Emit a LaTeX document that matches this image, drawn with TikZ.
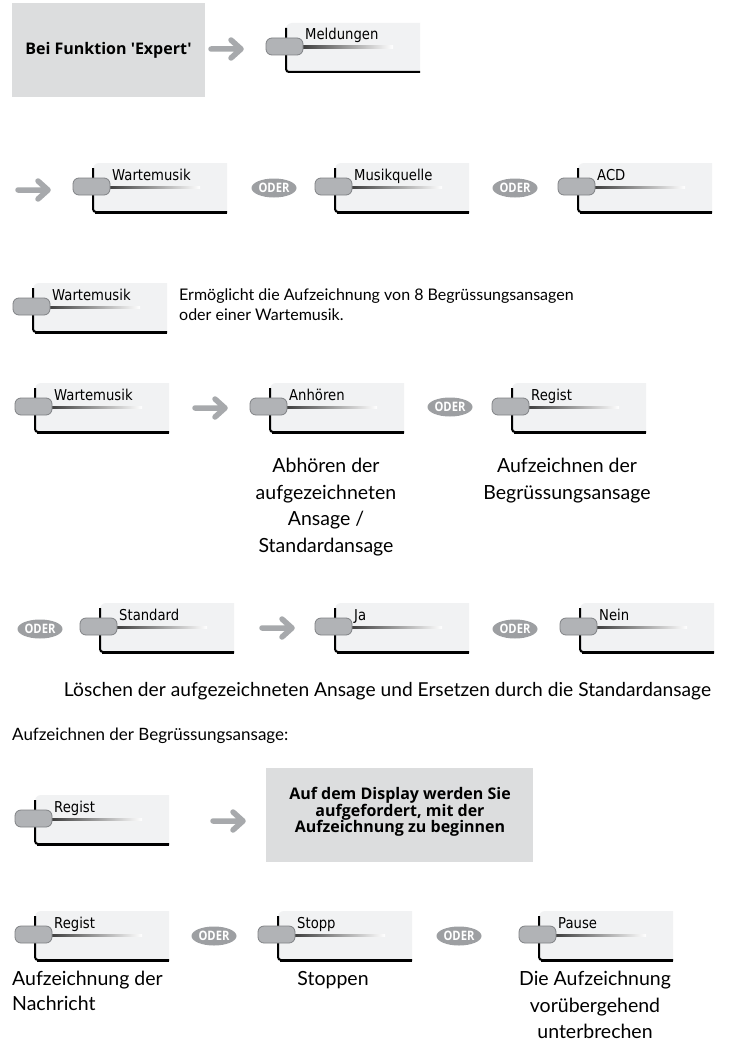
\documentclass[tikz,border=0pt]{standalone}
\usepackage{fontspec}
\setmainfont{Lato}
\newfontfamily\lcdfont[FakeStretch=0.88]{DejaVu Sans}
\newfontfamily\boxfont{Open Sans}
\newfontfamily\oderfont[FakeStretch=0.86]{Open Sans}
\usetikzlibrary{shapes.geometric}
\definecolor{boxgray}{HTML}{DCDDDE}
\definecolor{arrowgray}{HTML}{A7A9AC}
\definecolor{odergray}{HTML}{9D9FA2}
\definecolor{panelbg}{HTML}{F1F2F3}
\definecolor{pillfill}{HTML}{B1B3B6}
\definecolor{pillline}{HTML}{808285}
\tikzset{
  lcd/.style={font=\lcdfont\fontsize{15}{15}\selectfont, inner sep=0pt, anchor=base west},
  lbl/.style={font=\fontsize{19.5}{26.5}\selectfont, align=center, inner sep=0pt, anchor=north},
  lbll/.style={font=\fontsize{19.5}{25}\selectfont, align=left, inner sep=0pt, anchor=north west},
  desc/.style={font=\fontsize{16}{20}\selectfont, align=left, inner sep=0pt, anchor=north west},
  graybox/.style={fill=boxgray, draw=none, inner sep=0pt},
  boxtext/.style={font=\boxfont\bfseries\fontsize{16}{16.5}\selectfont, align=center, inner sep=0pt},
  oder/.style={ellipse, fill=odergray, text=white, font=\oderfont\bfseries\fontsize{13}{13}\selectfont,
    minimum width=45pt, minimum height=19pt, inner sep=0pt},
  pics/softkey/.style={code={
    \fill[panelbg] (0,50) [rounded corners=6pt] -- (0,0) [sharp corners] -- (134,0) -- (134,50) -- cycle;
    \draw[black, line width=2pt, rounded corners=3pt] (0,5) -- (0,49) -- (134,49);
    \draw[black, line width=1pt] (2,50) -- (134,50);
    \shade[left color=black!75, right color=white] (17,23) rectangle (107,25.6);
    \draw[pillline, line width=0.8pt, fill=pillfill, rounded corners=6pt] (-20,15) rectangle (17,32);
    \node[lcd] (-txt) at (19,17) {#1};
  }},
  pics/grayarrow/.style={code={
    \draw[arrowgray, line width=5.5pt, line cap=round, line join=round]
      (0,0) -- (30,0) (20,-9) -- (30,0) -- (20,9);
  }}
}
\newcommand{\oderword}{\makebox[0pt][c]{ODER}}
\begin{document}
\begin{tikzpicture}[x=1pt,y=-1pt]
\useasboundingbox (0,0) rectangle (730,1054);
\fill[white] (0,0) rectangle (730,1054);

% Row 1
\fill[graybox] (12,3) rectangle (205,97);
\node[boxtext] (expert) at (108.5,50) {Bei Funktion 'Expert'};
\pic (a1) at (211,49) {grayarrow};
\pic (k1) at (286,23) {softkey=Meldungen};

% Row 2
\pic (a2) at (18,190) {grayarrow};
\pic (k2) at (93,163) {softkey=Wartemusik};
\node[oder] (o1) at (274,188) {\oderword};
\pic (k3) at (335,163) {softkey=Musikquelle};
\node[oder] (o2) at (515,188) {\oderword};
\pic (k4) at (578,163) {softkey=ACD};

% Row 3
\pic (k5) at (33,283) {softkey=Wartemusik};
\node[desc] (d1) at (179,289) {Ermöglicht die Aufzeichnung von 8 Begrüssungsansagen\\oder einer Wartemusik.};

% Row 4
\pic (k6) at (35,383) {softkey=Wartemusik};
\pic (a3) at (195,408) {grayarrow};
\pic (k7) at (270,383) {softkey=Anhören};
\node[oder] (o3) at (450,407) {\oderword};
\pic (k8) at (512,383) {softkey=Regist};
\node[lbl] (l1) at (326,458) {Abhören der\\aufgezeichneten\\Ansage /\\Standardansage};
\node[lbl] (l2) at (567,458) {Aufzeichnen der\\Begrüssungsansage};

% Row 5
\node[oder] (o4) at (40,629) {\oderword};
\pic (k9) at (100,603) {softkey=Standard};
\pic (a4) at (262,628) {grayarrow};
\pic (k10) at (335,603) {softkey=Ja};
\node[oder] (o5) at (515,629) {\oderword};
\pic (k11) at (580,603) {softkey=Nein};
\node[font=\fontsize{19.2}{22}\selectfont, inner sep=0pt, anchor=base] (cap) at (387.5,696)
  {Löschen der aufgezeichneten Ansage und Ersetzen durch die Standardansage};

% Heading
\node[font=\fontsize{17}{20}\selectfont, inner sep=0pt, anchor=base west] (head) at (12,740)
  {Aufzeichnen der Begrüssungsansage:};

% Row 6
\pic (k12) at (35,795) {softkey=Regist};
\pic (a5) at (213,821) {grayarrow};
\fill[graybox] (266,768) rectangle (533,862);
\node[boxtext] (disp) at (400,812) {Auf dem Display werden Sie\\aufgefordert, mit der\\Aufzeichnung zu beginnen};

% Row 7
\pic (k13) at (35,911) {softkey=Regist};
\node[oder] (o6) at (214,936) {\oderword};
\pic (k14) at (278,911) {softkey=Stopp};
\node[oder] (o7) at (459,936) {\oderword};
\pic (k15) at (539,911) {softkey=Pause};
\node[lbll] (l3) at (12,971) {Aufzeichnung der\\Nachricht};
\node[lbl] (l4) at (333,971) {Stoppen};
\node[lbl] (l5) at (595,971) {Die Aufzeichnung\\vorübergehend\\unterbrechen};
\end{tikzpicture}
\end{document}
